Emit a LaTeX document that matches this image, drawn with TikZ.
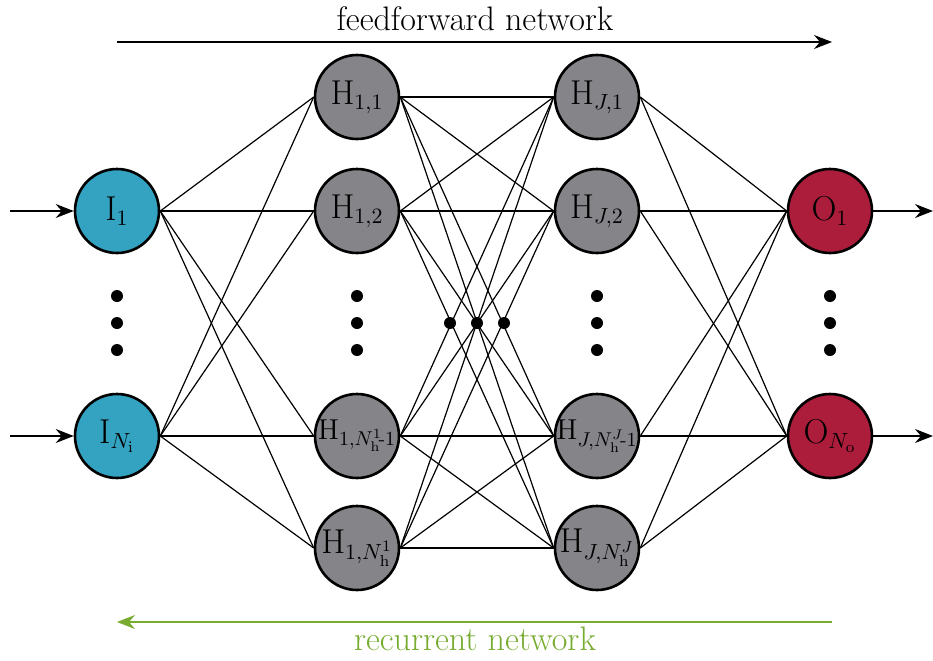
\documentclass[tikz,border=0pt]{standalone}
\usepackage{amsmath}
\usetikzlibrary{arrows.meta}
\definecolor{incol}{RGB}{52,163,194}
\definecolor{outcol}{RGB}{172,29,60}
\definecolor{hidcol}{RGB}{133,132,137}
\definecolor{reccol}{RGB}{119,172,48}
\newcommand{\nlbl}[1]{\makebox[0pt]{#1}}
\newcommand{\nlblsm}[1]{\makebox[0pt]{\fontsize{14}{16}\selectfont #1}}
\tikzset{
  neuron/.style={circle,draw=black,line width=1.3pt,minimum size=42pt,inner sep=0pt,font=\fontsize{16}{18}\selectfont},
  inneuron/.style={neuron,fill=incol},
  outneuron/.style={neuron,fill=outcol},
  hidneuron/.style={neuron,fill=hidcol},
  conn/.style={line width=0.6pt},
  arr/.style={line width=0.7pt,-{Stealth[length=9pt,width=7pt,inset=3pt]}},
  vdot/.style={circle,fill=black,inner sep=0pt,minimum size=6pt},
  lbl/.style={font=\fontsize{17}{20}\selectfont}
}
\begin{document}
\begin{tikzpicture}[x=0.5pt,y=-0.5pt]
\useasboundingbox (0,0) rectangle (933,660);
% input
\node[inneuron] (I1) at (117,211) {\nlbl{$\mathrm{I}_1$}};
\node[inneuron] (IN) at (117,436) {\nlbl{$\mathrm{I}_{N_\mathrm{i}}$}};
% hidden first
\node[hidneuron] (A1) at (357,97) {\nlbl{$\mathrm{H}_{1,1}$}};
\node[hidneuron] (A2) at (357,211) {\nlbl{$\mathrm{H}_{1,2}$}};
\node[hidneuron] (A3) at (357,436) {\nlblsm{$\mathrm{H}_{1,N_{\mathrm{h}}^{1}\!\text{-}1}$}};
\node[hidneuron] (A4) at (357,548) {\nlbl{$\mathrm{H}_{1,N_{\mathrm{h}}^{1}}$}};
% hidden last
\node[hidneuron] (B1) at (597,97) {\nlbl{$\mathrm{H}_{J,1}$}};
\node[hidneuron] (B2) at (597,211) {\nlbl{$\mathrm{H}_{J,2}$}};
\node[hidneuron] (B3) at (597,436) {\nlblsm{$\mathrm{H}_{J,N_{\mathrm{h}}^{J}\!\text{-}1}$}};
\node[hidneuron] (B4) at (597,548) {\nlbl{$\mathrm{H}_{J,N_{\mathrm{h}}^{J}}$}};
% output
\node[outneuron] (O1) at (830,211) {\nlbl{$\mathrm{O}_1$}};
\node[outneuron] (ON) at (830,436) {\nlbl{$\mathrm{O}_{N_\mathrm{o}}$}};
% connections
\foreach \i in {I1,IN}{\foreach \h in {A1,A2,A3,A4}{\draw[conn] (\i.east) -- (\h.west);}}
\foreach \a in {A1,A2,A3,A4}{\foreach \b in {B1,B2,B3,B4}{\draw[conn] (\a.east) -- (\b.west);}}
\foreach \b in {B1,B2,B3,B4}{\foreach \o in {O1,ON}{\draw[conn] (\b.east) -- (\o.west);}}
% dots
\foreach \x/\n in {117/i,357/a,597/b,830/o}{
  \node[vdot] (d\n1) at (\x,296) {};
  \node[vdot] (d\n2) at (\x,323) {};
  \node[vdot] (d\n3) at (\x,350) {};
}
\node[vdot] (m1) at (450,323) {};
\node[vdot] (m2) at (477,323) {};
\node[vdot] (m3) at (504,323) {};
% in/out arrows
\coordinate (in1) at (10,211);
\coordinate (in2) at (10,436);
\coordinate (out1) at (933,211);
\coordinate (out2) at (933,436);
\draw[arr] (in1) -- (I1.west);
\draw[arr] (in2) -- (IN.west);
\draw[arr] (O1.east) -- (out1);
\draw[arr] (ON.east) -- (out2);
% feedforward / recurrent
\coordinate (ffs) at (117,42);
\coordinate (ffe) at (832,42);
\draw[arr] (ffs) -- (ffe);
\node[lbl] (fft) at (475,19) {feedforward network};
\coordinate (rcs) at (832,622);
\coordinate (rce) at (117,622);
\draw[arr,draw=reccol,fill=reccol] (rcs) -- (rce);
\node[lbl,text=reccol] (rct) at (475,639) {recurrent network};
\end{tikzpicture}
\end{document}
